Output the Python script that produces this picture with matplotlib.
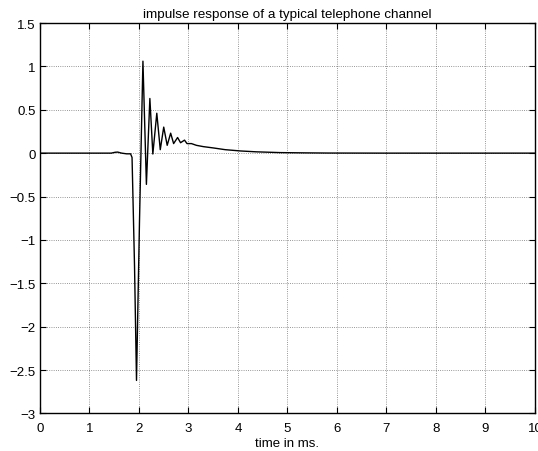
import matplotlib.pyplot as plt

# time in ms and response values
t = [0.0, 0.97, 1.44, 1.52, 1.57, 1.65, 1.75, 1.83, 1.86, 1.91, 1.95,
     2.01, 2.08, 2.15, 2.22, 2.28, 2.36, 2.43, 2.50, 2.57, 2.64, 2.70,
     2.78, 2.84, 2.92, 2.97, 3.06, 3.16, 3.30, 3.50, 3.74, 4.05, 4.37,
     4.86, 5.35, 5.83, 7.00, 8.00, 9.00, 10.0]
h = [0.0, 0.0, 0.0, 0.01, 0.012, 0.0, -0.008, -0.008, -0.05, -1.3, -2.62,
     -0.8, 1.06, -0.36, 0.63, -0.01, 0.46, 0.04, 0.30, 0.09, 0.23, 0.11,
     0.18, 0.12, 0.15, 0.11, 0.11, 0.09, 0.075, 0.06, 0.04, 0.025, 0.015,
     0.006, 0.003, 0.001, 0.0, 0.0, 0.0, 0.0]

plt.rcParams['font.family'] = ['Liberation Sans', 'DejaVu Sans']

fig = plt.figure(figsize=(5.38, 4.52), dpi=100)
ax = fig.add_axes([0.0743, 0.0832, 0.9201, 0.8637])
ax.plot(t, h, color='black', linewidth=1.0)

ax.set_xlim(0, 10)
ax.set_ylim(-3, 1.5)
ax.set_xticks(range(0, 11))
ax.set_yticks([-3, -2.5, -2, -1.5, -1, -0.5, 0, 0.5, 1, 1.5])
ax.set_yticklabels(['\u22123', '\u22122.5', '\u22122', '\u22121.5', '\u22121',
                    '\u22120.5', '0', '0.5', '1', '1.5'])
ax.grid(True, linestyle=':', color='black', linewidth=0.6, alpha=0.55)
ax.tick_params(direction='in', length=4, labelsize=9.5, top=True, right=True,
               labeltop=False, labelright=False)
ax.tick_params(axis='x', pad=6)
ax.tick_params(axis='y', pad=3)
for s in ax.spines.values():
    s.set_linewidth(1.0)

ax.set_xlabel('time in ms.', fontsize=9.5, labelpad=2)
ax.set_title('impulse response of a typical telephone channel', fontsize=9.7, pad=4)

fig.savefig('out.png', dpi=100)
